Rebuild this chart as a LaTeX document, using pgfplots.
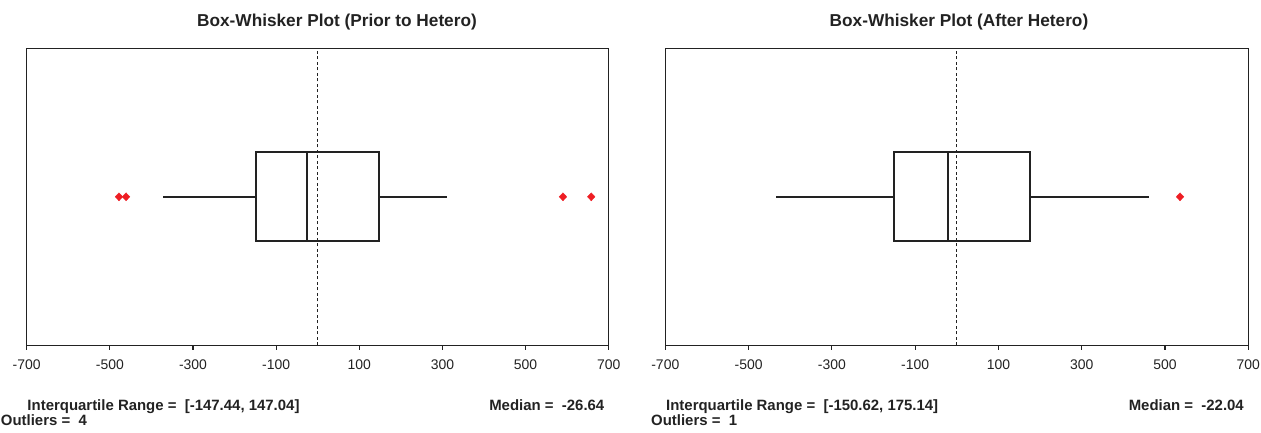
\documentclass[border=0pt]{standalone}
\usepackage{fontspec}
\setmainfont{Liberation Sans}
\usepackage{pgfplots}
\pgfplotsset{compat=1.18}
\usepgfplotslibrary{statistics}
\definecolor{outred}{RGB}{238,30,36}
\definecolor{ink}{RGB}{34,34,34}
\pgfplotsset{bw/.style={
  scale only axis, width=582bp, height=297bp,
  xmin=-700, xmax=700, ymin=0, ymax=1,
  xtick={-700,-500,...,700}, ytick=\empty,
  tick align=outside, xtick pos=lower, major tick length=4.5bp,
  tick style={ink, line width=1.2bp},
  axis line style={line width=1.3bp, ink},
  /pgf/number format/assume math mode=true,
  xticklabel style={font=\fontsize{14}{16}\selectfont, text=ink, inner sep=0pt, yshift=-9.7bp},
  clip=false,
  boxplot/every box/.style={draw=ink, line width=2bp},
  boxplot/every whisker/.style={draw=ink, line width=2bp},
  boxplot/every median/.style={draw=ink, line width=2bp},
}}
\begin{document}
\begin{tikzpicture}[x=1bp,y=1bp]
\path[use as bounding box] (0,0) rectangle (1261,433);
% ---------- left
\begin{axis}[bw, at={(26.7bp,87.7bp)}, anchor=south west]
\addplot[ink, line width=1.2bp, dash pattern=on 3bp off 2.5bp] coordinates {(0,0) (0,1)};
\addplot[ink, line width=2bp, solid, boxplot prepared={median=-26.64, lower quartile=-147.44, upper quartile=147.04, lower whisker=-372, upper whisker=310, draw position=0.5, box extend=0.3, whisker extend=0}] coordinates {};
\addplot[only marks, mark=diamond*, mark size=4bp, color=outred, mark options={xscale=1.25}] coordinates {(-478,0.5) (-461,0.5) (590,0.5) (658,0.5)};
\end{axis}
% ---------- right
\begin{axis}[bw, width=583bp, at={(665.3bp,87.7bp)}, anchor=south west]
\addplot[ink, line width=1.2bp, dash pattern=on 3bp off 2.5bp] coordinates {(0,0) (0,1)};
\addplot[ink, line width=2bp, solid, boxplot prepared={median=-22.04, lower quartile=-150.62, upper quartile=175.14, lower whisker=-434, upper whisker=462, draw position=0.5, box extend=0.3, whisker extend=0}] coordinates {};
\addplot[only marks, mark=diamond*, mark size=4bp, color=outred, mark options={xscale=1.25}] coordinates {(536,0.5)};
\end{axis}
% ---------- texts
\begin{scope}[every node/.style={inner sep=0pt, text=ink, font=\fontsize{15}{17}\selectfont\bfseries}]
\node[anchor=base, font=\fontsize{17.3}{20}\selectfont\bfseries] at (337,406.3) {Box-Whisker Plot (Prior to Hetero)};
\node[anchor=base, font=\fontsize{17.3}{20}\selectfont\bfseries] at (959,406.3) {Box-Whisker Plot (After Hetero)};
\node[anchor=base west] at (27.3,22.3) {Interquartile Range = \ [-147.44, 147.04]};
\node[anchor=base east] at (604.5,22.3) {Median = \ -26.64};
\node[anchor=base west] at (0.7,7) {Outliers = \ 4};
\node[anchor=base west] at (666,22.3) {Interquartile Range = \ [-150.62, 175.14]};
\node[anchor=base east] at (1244,22.3) {Median = \ -22.04};
\node[anchor=base west] at (651,7) {Outliers = \ 1};
\end{scope}
\end{tikzpicture}
\end{document}
